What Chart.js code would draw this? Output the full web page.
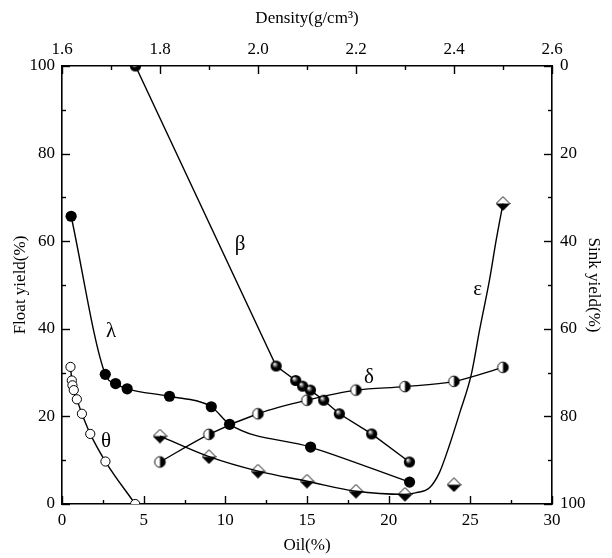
<!DOCTYPE html>
<html lang="en">

<head>
    <meta charset="utf-8">
    <title>Oil yield chart</title>
    <style>
        html, body { margin: 0; padding: 0; background: #fff; }
        #chartBox { width: 612px; height: 558px; }
    </style>
</head>

<body>
    <div id="chartBox"><canvas id="myChart"></canvas></div>
    <script type="text/javascript" src="https://cdn.jsdelivr.net/npm/chart.js/dist/chart.umd.min.js"></script>
    <script>
        // values
        const thetaOil = [0.52, 0.6, 0.64, 0.72, 0.91, 1.22, 1.73, 2.66, 4.48];
        const thetaFloat = [31.3, 28.2, 27.1, 26.0, 23.9, 20.6, 16.0, 9.7, 0];

        const lambdaOil = [0.56, 2.65, 3.28, 3.99, 6.58, 9.14, 10.26, 15.22, 21.28];
        const lambdaFloat = [65.7, 29.6, 27.5, 26.3, 24.6, 22.2, 18.2, 13.0, 5.0];

        const betaDensity = [1.75, 2.037, 2.077, 2.091, 2.107, 2.134, 2.166, 2.232, 2.309];
        const betaFloat = [100, 31.5, 28.2, 26.9, 26.0, 23.7, 20.6, 16.0, 9.6];

        const deltaOil = [6, 9, 12, 15, 18, 21, 24, 27];
        const deltaFloat = [9.6, 15.9, 20.6, 23.7, 26.0, 26.8, 28.0, 31.2];

        const epsOil = [6, 9, 12, 15, 18, 21, 24, 27];
        const epsFloat = [15.5, 10.8, 7.5, 5.2, 2.9, 2.2, 4.4, 68.6];

        // the fitted epsilon curve
        const epsCurveOil = [6, 9, 12, 15, 18, 21, 21.7, 22.5, 23.1, 23.7, 24.35, 25.06, 25.57, 26.18, 26.59, 27];
        const epsCurveFloat = [15.5, 10.8, 7.5, 5.2, 2.9, 2.2, 2.6, 3.7, 7.1, 13.2, 20.8, 29.6, 39.8, 51.3, 60.4, 68.6];

        const oilTicks = [0, 5, 10, 15, 20, 25, 30];
        const densityTicks = [1.6, 1.8, 2.0, 2.2, 2.4, 2.6];
        const yieldTicks = [0, 20, 40, 60, 80, 100];

        // curve names, placed in oil / float yield units
        const curveNames = ['λ', 'θ', 'β', 'δ', 'ε'];
        const nameOil = [3.0, 2.7, 10.9, 18.8, 25.45];
        const nameFloat = [39.5, 14.3, 59.2, 28.8, 48.9];

        const serif = 'Liberation Serif, Times New Roman, serif';

        function pts(xs, ys) {
            return xs.map((x, i) => ({ x: x, y: ys[i] }));
        }

        function marker(kind) {
            const c = document.createElement('canvas');
            const s = 15;
            c.width = s; c.height = s;
            const g = c.getContext('2d');
            const m = s / 2;
            g.lineWidth = 1;
            g.strokeStyle = '#000';
            if (kind === 'ball') {
                const r = 5.6;
                const grad = g.createRadialGradient(m - 1.8, m - 2.2, 0.3, m, m, r);
                grad.addColorStop(0, '#fff');
                grad.addColorStop(0.3, '#666');
                grad.addColorStop(0.55, '#000');
                grad.addColorStop(1, '#000');
                g.fillStyle = grad;
                g.beginPath(); g.arc(m, m, r, 0, Math.PI * 2); g.fill();
            } else if (kind === 'half') {
                const r = 5.3;
                g.fillStyle = '#fff';
                g.beginPath(); g.arc(m, m, r, 0, Math.PI * 2); g.fill();
                g.fillStyle = '#000';
                g.beginPath(); g.arc(m, m, r, -Math.PI / 2, Math.PI / 2); g.closePath(); g.fill();
                g.beginPath(); g.arc(m, m, r, 0, Math.PI * 2); g.stroke();
            } else if (kind === 'diamond') {
                const r = 6.8;
                g.fillStyle = '#fff';
                g.beginPath(); g.moveTo(m - r, m); g.lineTo(m, m - r); g.lineTo(m + r, m); g.closePath(); g.fill();
                g.fillStyle = '#000';
                g.beginPath(); g.moveTo(m - r, m); g.lineTo(m, m + r); g.lineTo(m + r, m); g.closePath(); g.fill();
                g.beginPath(); g.moveTo(m - r, m); g.lineTo(m, m - r); g.lineTo(m + r, m); g.lineTo(m, m + r); g.closePath(); g.stroke();
            }
            return c;
        }

        const lineBase = {
            showLine: true,
            borderColor: '#000',
            borderWidth: 1.4,
            cubicInterpolationMode: 'monotone'
        };

        const data = {
            datasets: [
                Object.assign({}, lineBase, {
                    label: 'θ', data: pts(thetaOil, thetaFloat),
                    pointStyle: 'circle', pointRadius: 4.6, backgroundColor: '#fff', pointBorderColor: '#000', pointBorderWidth: 1
                }),
                Object.assign({}, lineBase, {
                    label: 'λ', data: pts(lambdaOil, lambdaFloat),
                    pointStyle: 'circle', pointRadius: 5.6, backgroundColor: '#000', pointBorderColor: '#000', pointBorderWidth: 0
                }),
                Object.assign({}, lineBase, {
                    label: 'β', data: pts(betaDensity, betaFloat), xAxisID: 'x2',
                    cubicInterpolationMode: 'default', tension: 0,
                    pointStyle: marker('ball'), pointRadius: 6
                }),
                Object.assign({}, lineBase, {
                    label: 'δ', data: pts(deltaOil, deltaFloat),
                    pointStyle: marker('half'), pointRadius: 6
                }),
                Object.assign({}, lineBase, {
                    label: 'ε curve', data: pts(epsCurveOil, epsCurveFloat),
                    pointRadius: 0
                }),
                {
                    label: 'ε', data: pts(epsOil, epsFloat), showLine: false,
                    pointStyle: marker('diamond'), pointRadius: 7
                }
            ]
        };

        // ticks point inward, Origin style, with a minor tick between labels
        const inwardTicks = {
            id: 'inwardTicks',
            afterDatasetsDraw(chart) {
                const ctx = chart.ctx;
                const a = chart.chartArea;
                ctx.save();
                ctx.strokeStyle = '#000';
                ctx.lineWidth = 1.4;
                const mark = (scale, vals, side) => {
                    vals.forEach((v, i) => {
                        const p = Math.round(scale.getPixelForValue(v)) + 0.5;
                        const len = i % 2 === 0 ? 8 : 4;
                        ctx.beginPath();
                        if (side === 'bottom') { ctx.moveTo(p, a.bottom); ctx.lineTo(p, a.bottom - len); }
                        if (side === 'top') { ctx.moveTo(p, a.top); ctx.lineTo(p, a.top + len); }
                        if (side === 'left') { ctx.moveTo(a.left, p); ctx.lineTo(a.left + len, p); }
                        if (side === 'right') { ctx.moveTo(a.right, p); ctx.lineTo(a.right - len, p); }
                        ctx.stroke();
                    });
                };
                const halves = (ticks) => {
                    const out = [];
                    ticks.forEach((t, i) => {
                        out.push(t);
                        if (i < ticks.length - 1) out.push((t + ticks[i + 1]) / 2);
                    });
                    return out;
                };
                mark(chart.scales.x, halves(oilTicks), 'bottom');
                mark(chart.scales.x2, halves(densityTicks), 'top');
                mark(chart.scales.y, halves(yieldTicks), 'left');
                mark(chart.scales.y2, halves(yieldTicks), 'right');
                ctx.restore();
            }
        };

        const curveLabels = {
            id: 'curveLabels',
            afterDatasetsDraw(chart) {
                const ctx = chart.ctx;
                ctx.save();
                ctx.fillStyle = '#000';
                ctx.font = '21px ' + serif;
                ctx.textAlign = 'center';
                ctx.textBaseline = 'middle';
                curveNames.forEach((n, i) => {
                    ctx.fillText(n, chart.scales.x.getPixelForValue(nameOil[i]), chart.scales.y.getPixelForValue(nameFloat[i]));
                });
                ctx.restore();
            }
        };

        const tickFont = { family: serif, size: 17 };
        const titleFont = { family: serif, size: 17 };
        const border = { display: true, color: '#000', width: 1.6 };
        const noGrid = { display: false, drawTicks: false };

        const config = {
            type: 'scatter',
            data,
            options: {
                responsive: false,
                animation: false,
                events: [],
                layout: { padding: 0 },
                plugins: { legend: { display: false }, tooltip: { enabled: false } },
                scales: {
                    x: {
                        type: 'linear', position: 'bottom', min: 0, max: 30,
                        afterBuildTicks: (s) => { s.ticks = oilTicks.map(v => ({ value: v })); },
                        afterFit: (s) => { s.height = 54; },
                        grid: noGrid, border: border,
                        ticks: { color: '#000', font: tickFont, padding: 6, maxRotation: 0 },
                        title: { display: true, text: 'Oil(%)', color: '#000', font: titleFont, padding: { top: 0, bottom: 2 } }
                    },
                    x2: {
                        type: 'linear', position: 'top', min: 1.6, max: 2.6,
                        afterBuildTicks: (s) => { s.ticks = densityTicks.map(v => ({ value: v })); },
                        afterFit: (s) => { s.height = 66; },
                        grid: noGrid, border: border,
                        ticks: { color: '#000', font: tickFont, padding: 6, maxRotation: 0, callback: (v) => v.toFixed(1) },
                        title: { display: true, text: 'Density(g/cm³)', color: '#000', font: titleFont, padding: { top: 8, bottom: 0 } }
                    },
                    y: {
                        type: 'linear', position: 'left', min: 0, max: 100,
                        afterBuildTicks: (s) => { s.ticks = yieldTicks.map(v => ({ value: v })); },
                        afterFit: (s) => { s.width = 62; },
                        grid: noGrid, border: border,
                        ticks: { color: '#000', font: tickFont, padding: 7 },
                        title: { display: true, text: 'Float yield(%)', color: '#000', font: titleFont, padding: { top: 10, bottom: 0 } }
                    },
                    y2: {
                        type: 'linear', position: 'right', min: 0, max: 100, reverse: true,
                        afterBuildTicks: (s) => { s.ticks = yieldTicks.map(v => ({ value: v })); },
                        afterFit: (s) => { s.width = 60; },
                        grid: noGrid, border: border,
                        ticks: { color: '#000', font: tickFont, padding: 8 },
                        title: { display: true, text: 'Sink yield(%)', color: '#000', font: titleFont, padding: { top: 8, bottom: 0 } }
                    }
                }
            },
            plugins: [inwardTicks, curveLabels]
        };

        const canvas = document.getElementById('myChart');
        canvas.width = 612;
        canvas.height = 558;
        const myChart = new Chart(canvas, config);
    </script>
</body>

</html>
